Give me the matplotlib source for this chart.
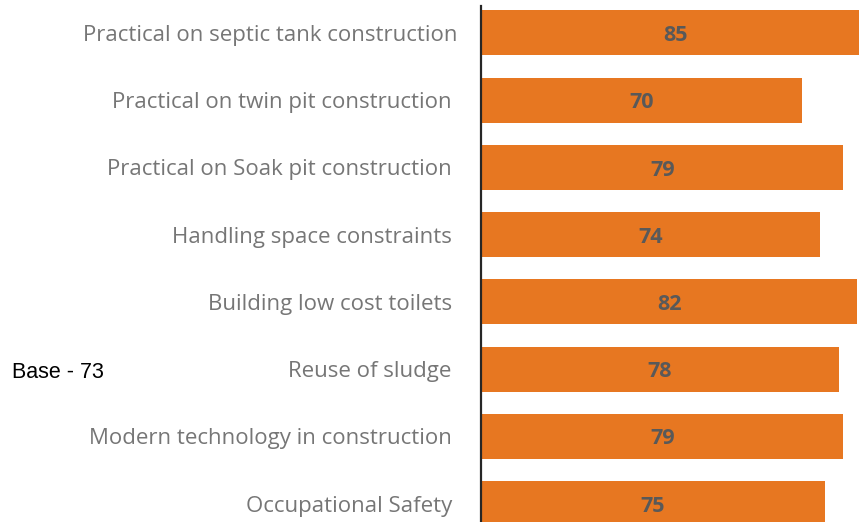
import matplotlib
matplotlib.use("Agg")
import matplotlib.pyplot as plt
from matplotlib.transforms import ScaledTranslation

categories = [
    "Practical on septic tank construction",
    "Practical on twin pit construction",
    "Practical on Soak pit construction",
    "Handling space constraints",
    "Building low cost toilets",
    "Reuse of sludge",
    "Modern technology in construction",
    "Occupational Safety",
]
values = [85, 70, 79, 74, 82, 78, 79, 75]
base_text = "Base - 73"

bar_color = "#E77721"
label_color = "#767676"
value_color = "#595959"

fig = plt.figure(figsize=(8.59, 5.22), dpi=100)
ax = fig.add_axes([481 / 859, 0.0, 1 - 481 / 859, 1 - 6 / 522])

ypos = list(range(len(categories)))
ax.barh(ypos, values, height=0.67, color=bar_color, edgecolor="none")
ax.set_xlim(0, 82.4)
ax.set_ylim(7.275, -0.40)

for y, v in zip(ypos, values):
    ax.text(v / 2, y + 0.04, str(v), ha="center", va="center", fontsize=15.5,
            fontweight="bold", color=value_color, family="Open Sans")

ax.set_yticks(ypos)
ax.set_yticklabels(categories, family="Open Sans", fontsize=16, color=label_color)
ax.tick_params(axis="y", length=0, pad=21)
# first label sits slightly further right in the reference
tl = ax.get_yticklabels()[0]
tl.set_transform(tl.get_transform() + ScaledTranslation(6 / 100, 0, fig.dpi_scale_trans))
ax.set_xticks([])
for s in ["top", "right", "bottom"]:
    ax.spines[s].set_visible(False)
ax.spines["left"].set_color("#262626")
ax.spines["left"].set_linewidth(1.6)

fig.text(12 / 859, 1 - 372 / 522, base_text, ha="left", va="center",
         fontsize=15.5, color="black", family="Liberation Sans")

fig.savefig("out.png", dpi=100)
